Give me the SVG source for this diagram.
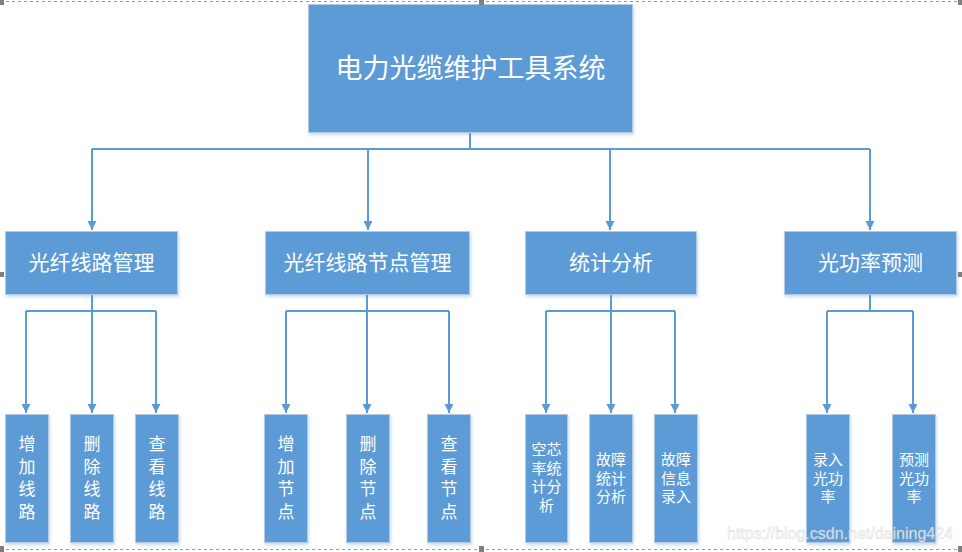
<svg xmlns="http://www.w3.org/2000/svg" width="962" height="552" viewBox="0 0 962 552">
<style>
.box{fill:#5B9BD5;stroke:#B4C9E3;stroke-width:1;filter:url(#sh)}
.t{fill:#ffffff;font-family:"Noto Sans CJK SC","Microsoft YaHei",sans-serif;text-anchor:middle;dominant-baseline:central}
.c{fill:none;stroke:#5B9BD5;stroke-width:2}
.h{fill:#7F7F7F}
</style>
<defs>
<filter id="sh" x="-20%" y="-20%" width="140%" height="140%">
<feDropShadow dx="1" dy="2" stdDeviation="1.5" flood-color="#5B9BD5" flood-opacity="0.35"/>
</filter>
<marker id="ar" markerUnits="userSpaceOnUse" markerWidth="10" markerHeight="10" refX="9" refY="4.5" orient="auto">
<path d="M0,0 L9,4.5 L0,9 z" fill="#5B9BD5"/>
</marker>
</defs>
<rect width="962" height="552" fill="#ffffff"/>

<g id="connectors">
<path class="c" d="M470,133 V149 M92,149 H870"/>
<path class="c" d="M92,149 V230" marker-end="url(#ar)"/>
<path class="c" d="M368,149 V230" marker-end="url(#ar)"/>
<path class="c" d="M610,149 V230" marker-end="url(#ar)"/>
<path class="c" d="M870,149 V230" marker-end="url(#ar)"/>

<path class="c" d="M92,295 V311 M26,311 H156"/>
<path class="c" d="M26,311 V413" marker-end="url(#ar)"/>
<path class="c" d="M92,311 V413" marker-end="url(#ar)"/>
<path class="c" d="M156,311 V413" marker-end="url(#ar)"/>

<path class="c" d="M367,295 V311 M286,311 H449"/>
<path class="c" d="M286,311 V413" marker-end="url(#ar)"/>
<path class="c" d="M367,311 V413" marker-end="url(#ar)"/>
<path class="c" d="M449,311 V413" marker-end="url(#ar)"/>

<path class="c" d="M611,295 V311 M546,311 H675"/>
<path class="c" d="M546,311 V413" marker-end="url(#ar)"/>
<path class="c" d="M611,311 V413" marker-end="url(#ar)"/>
<path class="c" d="M675,311 V413" marker-end="url(#ar)"/>

<path class="c" d="M870,295 V311 M827,311 H913"/>
<path class="c" d="M827,311 V413" marker-end="url(#ar)"/>
<path class="c" d="M913,311 V413" marker-end="url(#ar)"/>
</g>

<g id="root"><rect class="box" x="308.5" y="4.5" width="324" height="128"/><text class="t" x="470.5" y="66" font-size="27">电力光缆维护工具系统</text></g>

<g id="n1"><rect class="box" x="5.5" y="231.5" width="172" height="63"/><text class="t" x="91.5" y="261" font-size="21">光纤线路管理</text></g>
<g id="n2"><rect class="box" x="265.5" y="231.5" width="204" height="63"/><text class="t" x="367.5" y="261" font-size="21">光纤线路节点管理</text></g>
<g id="n3"><rect class="box" x="525.5" y="231.5" width="171" height="63"/><text class="t" x="611" y="261" font-size="21">统计分析</text></g>
<g id="n4"><rect class="box" x="784.5" y="231.5" width="172" height="63"/><text class="t" x="870.5" y="261" font-size="21">光功率预测</text></g>

<g id="l1"><rect class="box" x="5.5" y="414.5" width="43" height="128"/><text class="t" font-size="17"><tspan x="27" y="442">增</tspan><tspan x="27" y="464.5">加</tspan><tspan x="27" y="487">线</tspan><tspan x="27" y="509.5">路</tspan></text></g>
<g id="l2"><rect class="box" x="70.5" y="414.5" width="43" height="128"/><text class="t" font-size="17"><tspan x="92" y="442">删</tspan><tspan x="92" y="464.5">除</tspan><tspan x="92" y="487">线</tspan><tspan x="92" y="509.5">路</tspan></text></g>
<g id="l3"><rect class="box" x="135.5" y="414.5" width="43" height="128"/><text class="t" font-size="17"><tspan x="157" y="442">查</tspan><tspan x="157" y="464.5">看</tspan><tspan x="157" y="487">线</tspan><tspan x="157" y="509.5">路</tspan></text></g>

<g id="l4"><rect class="box" x="264.5" y="414.5" width="43" height="128"/><text class="t" font-size="17"><tspan x="286" y="442">增</tspan><tspan x="286" y="464.5">加</tspan><tspan x="286" y="487">节</tspan><tspan x="286" y="509.5">点</tspan></text></g>
<g id="l5"><rect class="box" x="346.5" y="414.5" width="43" height="128"/><text class="t" font-size="17"><tspan x="368" y="442">删</tspan><tspan x="368" y="464.5">除</tspan><tspan x="368" y="487">节</tspan><tspan x="368" y="509.5">点</tspan></text></g>
<g id="l6"><rect class="box" x="427.5" y="414.5" width="43" height="128"/><text class="t" font-size="17"><tspan x="449" y="442">查</tspan><tspan x="449" y="464.5">看</tspan><tspan x="449" y="487">节</tspan><tspan x="449" y="509.5">点</tspan></text></g>

<g id="l7"><rect class="box" x="525.5" y="414.5" width="42" height="128"/><text class="t" font-size="15"><tspan x="546.5" y="448">空芯</tspan><tspan x="546.5" y="466.5">率统</tspan><tspan x="546.5" y="485">计分</tspan><tspan x="546.5" y="503.5">析</tspan></text></g>
<g id="l8"><rect class="box" x="589.5" y="414.5" width="43" height="128"/><text class="t" font-size="15"><tspan x="611" y="458">故障</tspan><tspan x="611" y="476.5">统计</tspan><tspan x="611" y="495">分析</tspan></text></g>
<g id="l9"><rect class="box" x="654.5" y="414.5" width="43" height="128"/><text class="t" font-size="15"><tspan x="676" y="458">故障</tspan><tspan x="676" y="476.5">信息</tspan><tspan x="676" y="495">录入</tspan></text></g>

<g id="l10"><rect class="box" x="806.5" y="414.5" width="43" height="128"/><text class="t" font-size="15"><tspan x="828" y="458">录入</tspan><tspan x="828" y="476.5">光功</tspan><tspan x="828" y="495">率</tspan></text></g>
<g id="l11"><rect class="box" x="892.5" y="414.5" width="43" height="128"/><text class="t" font-size="15"><tspan x="914" y="458">预测</tspan><tspan x="914" y="476.5">光功</tspan><tspan x="914" y="495">率</tspan></text></g>

<g id="frame">
<path d="M0,1.5 H962 M0,549.5 H962" stroke="#9A9A9A" stroke-width="1" stroke-dasharray="3,3" fill="none"/>
<rect class="h" x="0" y="0" width="4" height="5"/>
<rect class="h" x="479" y="0" width="5" height="5"/>
<rect class="h" x="958" y="0" width="4" height="5"/>
<rect class="h" x="0" y="272" width="4" height="5"/>
<rect class="h" x="958" y="272" width="4" height="5"/>
<rect class="h" x="0" y="546" width="4" height="6"/>
<rect class="h" x="479" y="546" width="5" height="6"/>
<rect class="h" x="958" y="546" width="4" height="6"/>
</g>

<text x="727" y="539" font-family="Liberation Sans, Arial, sans-serif" font-size="16" textLength="226" lengthAdjust="spacingAndGlyphs" fill="#ffffff" fill-opacity="0.75" stroke="#c8c8c8" stroke-opacity="0.6" stroke-width="0.6">https://blog.csdn.net/daining424</text>
</svg>
